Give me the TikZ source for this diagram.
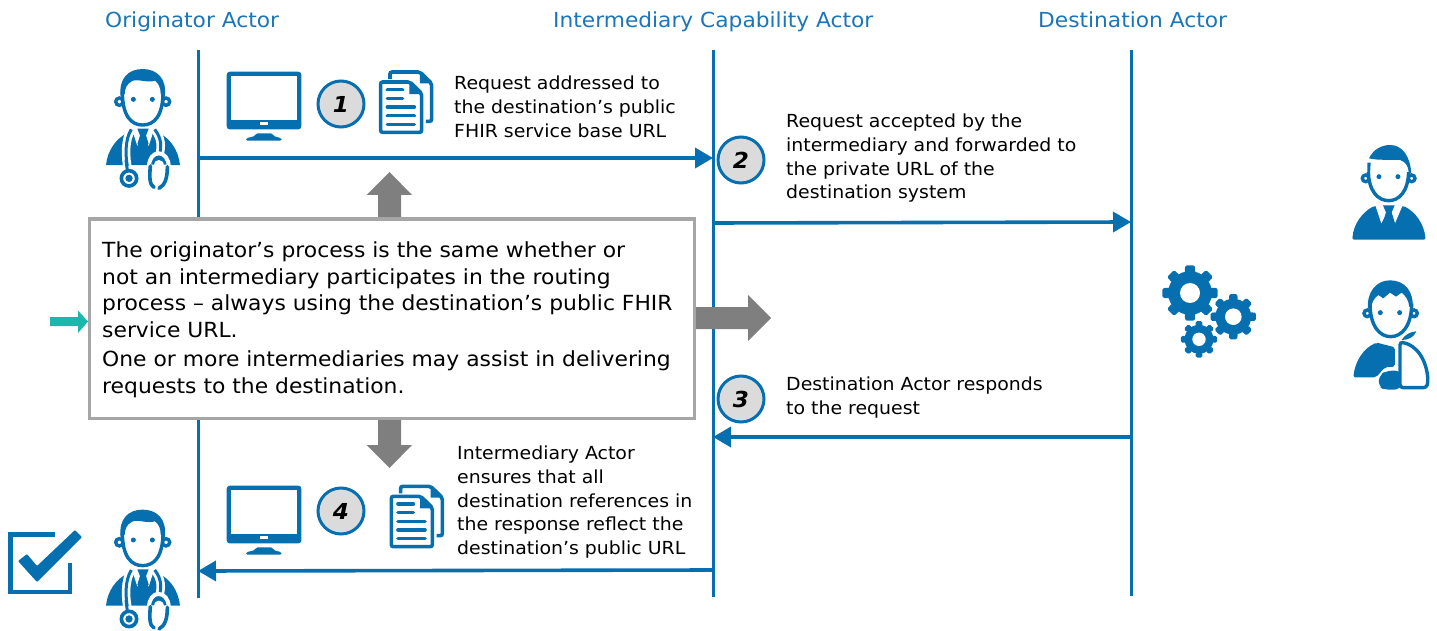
\documentclass[tikz,border=0pt]{standalone}
\usepackage{fontspec}
\setmainfont[FakeStretch=1.05]{DejaVu Sans}
\usetikzlibrary{arrows.meta}
\definecolor{ablue}{HTML}{066FB0}
\definecolor{hblue}{HTML}{1B75B9}
\definecolor{agrey}{HTML}{7F7F7F}
\definecolor{bgrey}{HTML}{A6A6A6}
\definecolor{teal1}{HTML}{1AB8AC}
\tikzset{
  icon/.style={x=0.3333pt,y=-0.3333pt},
  life/.style={draw=ablue,line width=3pt},
  msg/.style={draw=ablue,line width=3.6pt,-{Triangle[length=18pt,width=20pt]}},
  hdr/.style={text=hblue,font=\fontsize{20.7}{24}\selectfont,inner sep=0pt,anchor=base west},
  lbl/.style={font=\fontsize{18}{23.7}\selectfont,inner sep=0pt,anchor=north west,align=left},
  badge/.style={circle,draw=ablue,line width=3pt,fill=black!14,minimum size=46pt,inner sep=0pt,font=\fontsize{22}{24}\selectfont\bfseries\itshape},
  bigarrow/.style={fill=agrey,draw=none}
}
\newcommand\Doctor[1]{\begin{scope}[shift={(#1)},icon,xshift=-52.67pt,yshift=76.67pt]
 \fill[ablue] (48,345) .. controls (52,300) and (80,265) .. (110,250) -- (208,250) .. controls (240,265) and (265,300) .. (270,345) -- cycle;
 \fill[white] (124,232) -- (142,288) -- (158,245) -- (176,288) -- (194,232) -- cycle;
 \fill[ablue] (142,236) -- (176,236) -- (168,256) -- (176,282) -- (158,298) -- (142,282) -- (150,256) -- cycle;
 \foreach \c/\w in {white/8.5pt,ablue/3pt}{
  \draw[\c,line width=\w] (124,238) .. controls (104,270) and (105,320) .. (115,365);
  \draw[\c,line width=\w] (194,238) .. controls (215,265) and (215,290) .. (208,315);
 }
 \fill[white] (150,347) rectangle (260,425);
 \fill[white] (60,347) rectangle (150,360);
 \draw[ablue,line width=3pt,line cap=round] (108,330) -- (112,362);
 \draw[ablue,line width=3.6pt,fill=white] (117,385) circle (23);
 \fill[ablue] (117,385) circle (11);
 \draw[white,line width=4pt,fill=ablue] (177,350) .. controls (177,325) and (190,310) .. (206,310) .. controls (222,310) and (236,325) .. (236,350) -- cycle;
 \fill[white] (192,350) .. controls (192,335) and (198,330) .. (206,330) .. controls (214,330) and (222,335) .. (222,350) -- cycle;
 \draw[ablue,line width=3.6pt,line cap=round] (181,348) .. controls (178,380) and (178,405) .. (192,412);
 \draw[ablue,line width=3.6pt,line cap=round] (232,350) .. controls (232,385) and (225,405) .. (207,415);
 \draw[ablue,line width=3.4pt,fill=white] (88,155) circle (11) (228,155) circle (11);
 \fill[white] (97,125) .. controls (97,200) and (125,225) .. (158,225) .. controls (191,225) and (219,200) .. (219,125) -- cycle;
 \draw[ablue,line width=3.4pt] (97,125) .. controls (97,200) and (125,225) .. (158,225) .. controls (191,225) and (219,200) .. (219,125);
 \fill[ablue] (92,140) .. controls (85,85) and (115,57) .. (158,57) .. controls (200,57) and (232,85) .. (224,140) -- (212,132) .. controls (212,112) and (205,100) .. (195,92) .. controls (170,100) and (140,84) .. (125,94) .. controls (110,102) and (105,115) .. (104,132) -- cycle;
 \fill[ablue] (130,148) circle (7.5) (187,148) circle (7.5);
\end{scope}}
\newcommand\Monitor[1]{\begin{scope}[shift={(#1)},icon]
 \fill[ablue,rounded corners=3pt] (0,0) rectangle (224,173);
 \fill[white] (13,13) rectangle (210,145);
 \fill[white] (100,152) rectangle (125,161);
 \fill[ablue,rounded corners=1.5pt] (58,207) -- (58,200) -- (85,193) -- (88,185) -- (137,185) -- (140,193) -- (165,200) -- (165,207) -- cycle;
\end{scope}}
\newcommand\Docs[1]{\begin{scope}[shift={(#1)},icon]
 \draw[ablue,line width=3.6pt,rounded corners=2pt] (32,25) -- (32,4) -- (122,4) -- (157,38) -- (157,152) -- (140,152);
 \fill[ablue] (122,2) -- (160,38) -- (122,38) -- cycle;
 \draw[ablue,line width=3.6pt,fill=white,rounded corners=2pt] (4,34) -- (92,34) -- (127,68) -- (127,185) -- (4,185) -- cycle;
 \fill[ablue] (90,32) -- (128,70) -- (90,70) -- cycle;
 \draw[ablue,line width=3.6pt,line cap=round] (24,57) -- (70,57) (24,83) -- (70,83) (24,109) -- (105,109) (24,135) -- (105,135) (24,161) -- (105,161);
\end{scope}}
\newcommand\Gear[3]{\begin{scope}[shift={(#1)}]
 \foreach \a in {0,45,...,315}{\fill[ablue,rounded corners=1.5pt] (\a-15:#2*0.74) -- (\a-10:#2) -- (\a+10:#2) -- (\a+15:#2*0.74) -- cycle;}
 \fill[ablue] (0,0) circle (#2*0.78);
 \fill[white] (0,0) circle (#3);
\end{scope}}
\begin{document}
\begin{tikzpicture}[x=1pt,y=-1pt]
\useasboundingbox (0,0) rectangle (1437,631);
% lifelines
\coordinate (ot) at (198,50); \coordinate (ob) at (198,598);
\coordinate (it) at (713,50); \coordinate (ib) at (713,597);
\coordinate (dt) at (1131,50); \coordinate (db) at (1131,596);
\draw[life] (ot) -- (ob);
\draw[life] (it) -- (ib);
\draw[life] (dt) -- (db);
% headers
\node[hdr] (h1) at (105,28) {Originator Actor};
\node[hdr] (h2) at (553,28) {Intermediary Capability Actor};
\node[hdr] (h3) at (1038,28) {Destination Actor};
% messages
\coordinate (m1a) at (198,158); \coordinate (m1b) at (713,158);
\coordinate (m2a) at (713,223); \coordinate (m2b) at (1131,222);
\coordinate (m3a) at (1131,437); \coordinate (m3b) at (713,437);
\coordinate (m4a) at (713,570); \coordinate (m4b) at (198,571);
\draw[msg] (m1a) -- (m1b);
\draw[msg] (m2a) -- (m2b);
\draw[msg] (m3a) -- (m3b);
\draw[msg] (m4a) -- (m4b);
% grey arrows
\fill[bigarrow] (378,220) -- (378,195) -- (366.5,195) -- (389.5,172) -- (412,195) -- (401,195) -- (401,220) -- cycle;
\fill[bigarrow] (378,415) -- (378,445) -- (366.5,445) -- (389.5,468) -- (412,445) -- (401,445) -- (401,415) -- cycle;
\fill[bigarrow] (690,307) -- (748,307) -- (748,295) -- (771,318) -- (748,341) -- (748,329) -- (690,329) -- cycle;
\fill[teal1] (50,317) -- (78,317) -- (78,310.5) -- (88,321.5) -- (78,333) -- (78,326) -- (50,326) -- cycle;
% main box
\node[draw=bgrey,line width=3.4pt,fill=white,minimum width=605pt,minimum height=199pt,anchor=north west,inner sep=0pt] (box) at (87.5,217.5) {};
\node[inner sep=0pt,anchor=north west,align=left,font=\fontsize{20.8}{26.6}\selectfont] (boxtxt) at (102,241.5) {The originator’s process is the same whether or\\not an intermediary participates in the routing\\process – always using the destination’s public FHIR\\service URL.\\[2.6pt]One or more intermediaries may assist in delivering\\requests to the destination.};
% badges
\node[badge] (b1) at (341,104) {1};
\node[badge] (b2) at (741,160) {2};
\node[badge] (b3) at (741,399) {3};
\node[badge] (b4) at (341,511) {4};
% labels
\node[lbl] (l1) at (454,76) {Request addressed to\\the destination’s public\\FHIR service base URL};
\node[lbl] (l2) at (786,114) {Request accepted by the\\intermediary and forwarded to\\the private URL of the\\destination system};
\node[lbl] (l3) at (786,377) {Destination Actor responds\\to the request};
\node[lbl] (l4) at (457,446) {Intermediary Actor\\ensures that all\\destination references in\\the response reflect the\\destination’s public URL};
% icons
\Doctor{142.7,126.7}
\Doctor{142.7,567.3}
\Monitor{226.7,71.7}
\Monitor{226.7,485.7}
\Docs{379.3,70.7}
\Docs{390,485}
% check box
\draw[ablue,line width=4.6pt] (55,534.5) -- (10.5,534.5) -- (10.5,592) -- (70,592) -- (70,563);
\fill[ablue,rounded corners=1pt] (18,561) -- (27,554) -- (37,566) -- (75,530) -- (82,537) -- (37,582) -- cycle;
% gears
\Gear{1190,293}{28}{10}
\Gear{1233.3,316.7}{23}{8.3}
\Gear{1199,339.3}{18.5}{6.7}
% man
\begin{scope}[shift={(1140,130)},icon]
 \fill[ablue,rounded corners=2pt] (637,329) .. controls (640,280) and (670,245) .. (703,228) -- (790,228) .. controls (825,245) and (852,280) .. (857,329) -- cycle;
 \fill[white] (706,226) -- (724,280) -- (745,240) -- (765,280) -- (788,226) -- cycle;
 \fill[ablue] (729,226) -- (764,226) -- (755,247) -- (765,280) -- (747,300) -- (728,280) -- (738,247) -- cycle;
 \draw[ablue,line width=3.4pt,fill=white] (677,145) circle (10) (815,145) circle (10);
 \fill[white] (685,120) .. controls (685,185) and (715,212) .. (746,212) .. controls (777,212) and (806,185) .. (806,120) -- cycle;
 \draw[ablue,line width=3.4pt] (685,120) .. controls (685,185) and (715,212) .. (746,212) .. controls (777,212) and (806,185) .. (806,120);
 \fill[white] (676,85) rectangle (812,125);
 \fill[ablue] (687,85) .. controls (700,58) and (725,45) .. (750,45) .. controls (785,45) and (810,75) .. (814,130) -- (806,128) .. controls (805,105) and (795,95) .. (780,90) .. controls (750,88) and (715,92) .. (687,85) -- cycle;
 \fill[ablue] (682,98) -- (692,98) -- (690,135) -- (682,135) -- cycle;
 \fill[ablue] (717,140) circle (7.5) (774,140) circle (7.5);
\end{scope}
% patient
\begin{scope}[shift={(1140,130)},icon]
 \fill[ablue,rounded corners=2pt] (640,742) .. controls (645,695) and (670,655) .. (710,638) -- (765,652) -- (765,710) -- (735,712) -- (708,742) -- cycle;
 \draw[ablue,line width=3.4pt,fill=white,rounded corners=3pt] (780,636) .. controls (830,645) and (860,690) .. (864,755) -- (860,773) -- (780,773) -- cycle;
 \fill[ablue,rounded corners=6pt] (715,770) -- (718,735) -- (740,722) -- (783,722) -- (783,778) -- (735,780) -- cycle;
 \fill[ablue] (785,630) .. controls (795,612) and (815,605) .. (829,604) .. controls (822,622) and (805,630) .. (785,630) -- cycle;
 \draw[ablue,line width=3.4pt,fill=white] (682,550) circle (10) (822,550) circle (10);
 \fill[white] (690,520) .. controls (690,590) and (720,620) .. (752,620) .. controls (784,620) and (815,590) .. (815,520) -- cycle;
 \draw[ablue,line width=3.4pt] (690,520) .. controls (690,590) and (720,620) .. (752,620) .. controls (784,620) and (815,590) .. (815,520);
 \fill[ablue] (684,535) .. controls (680,485) and (710,451) .. (750,451) .. controls (795,451) and (822,485) .. (818,535) -- (808,530) .. controls (805,510) and (798,498) .. (785,488) -- (768,500) -- (750,488) -- (730,505) -- (715,495) .. controls (702,505) and (695,518) .. (694,532) -- cycle;
 \fill[ablue] (721,548) circle (7.5) (779,548) circle (7.5);
\end{scope}
\end{tikzpicture}
\end{document}
